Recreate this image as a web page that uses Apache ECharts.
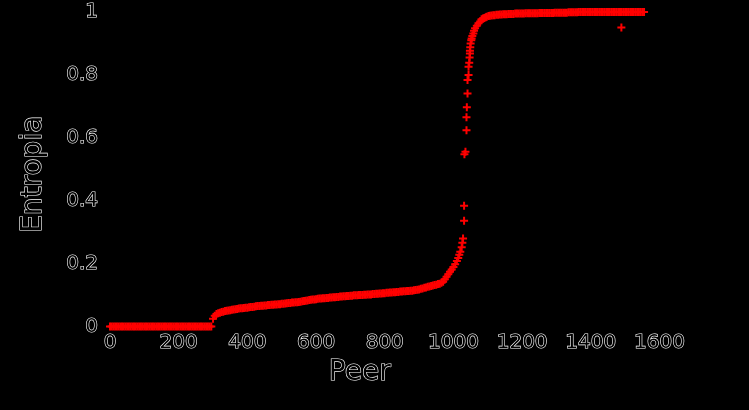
<!DOCTYPE html>
<html>
<head>
<meta charset="utf-8">
<script src="https://cdn.jsdelivr.net/npm/echarts@6/dist/echarts.min.js"></script>
<style>
html,body{margin:0;padding:0;background:#000;}
#chart{width:749px;height:410px;}
</style>
</head>
<body>
<div id="chart"></div>
<script>
// X tick labels / Y tick labels
const xTicks = [0, 200, 400, 600, 800, 1000, 1200, 1400, 1600];
const yTicks = [0, 0.2, 0.4, 0.6, 0.8, 1];

// [peer, entropy] values
const flatZero = [[0,0],[5,0],[10,0],[15,0],[20,0],[25,0],[30,0],[35,0],[40,0],[45,0],
  [50,0],[55,0],[60,0],[65,0],[70,0],[75,0],[80,0],[85,0],[90,0],[95,0],
  [100,0],[105,0],[110,0],[115,0],[120,0],[125,0],[130,0],[135,0],[140,0],[145,0],
  [150,0],[155,0],[160,0],[165,0],[170,0],[175,0],[180,0],[185,0],[190,0],[195,0],
  [200,0],[205,0],[210,0],[215,0],[220,0],[225,0],[230,0],[235,0],[240,0],[245,0],
  [250,0],[255,0],[260,0],[265,0],[270,0],[275,0],[280,0],[285,0],[290,0],[295,0]];

const lowBranch = [[300,0.025],[305,0.034],[310,0.04],[315,0.042],[320,0.044],[325,0.046],
  [330,0.047],[335,0.049],[340,0.05],[345,0.051],[350,0.052],[355,0.053],[360,0.054],[365,0.055],
  [370,0.056],[375,0.057],[380,0.058],[385,0.058],[390,0.059],[395,0.06],[400,0.06],[405,0.061],
  [410,0.062],[415,0.062],[420,0.063],[425,0.064],[430,0.065],[435,0.065],[440,0.066],[445,0.066],
  [450,0.067],[455,0.067],[460,0.068],[465,0.068],[470,0.069],[475,0.069],[480,0.07],[485,0.07],
  [490,0.071],[495,0.071],[500,0.072],[505,0.072],[510,0.073],[515,0.074],[520,0.075],[525,0.075],
  [530,0.076],[535,0.076],[540,0.077],[545,0.077],[550,0.078],[555,0.079],[560,0.08],[565,0.081],
  [570,0.082],[575,0.083],[580,0.084],[585,0.085],[590,0.086],[595,0.086],[600,0.087],[605,0.088],
  [610,0.089],[615,0.089],[620,0.09],[625,0.09],[630,0.091],[635,0.091],[640,0.092],[645,0.092],
  [650,0.093],[655,0.093],[660,0.094],[665,0.094],[670,0.095],[675,0.095],[680,0.096],[685,0.096],
  [690,0.097],[695,0.097],[700,0.098],[705,0.098],[710,0.099],[715,0.099],[720,0.099],[725,0.1],
  [730,0.1],[735,0.1],[740,0.101],[745,0.101],[750,0.102],[755,0.102],[760,0.102],[765,0.103],
  [770,0.103],[775,0.104],[780,0.104],[785,0.105],[790,0.105],[795,0.106],[800,0.106],[805,0.107],
  [810,0.107],[815,0.108],[820,0.108],[825,0.109],[830,0.109],[835,0.11],[840,0.11],[845,0.111],
  [850,0.111],[855,0.112],[860,0.112],[865,0.113],[870,0.113],[875,0.114],[880,0.114],[885,0.115],
  [890,0.116],[895,0.117],[900,0.118],[905,0.12],[910,0.121],[915,0.123],[920,0.124],[925,0.126],
  [930,0.127],[935,0.129],[940,0.13],[945,0.132],[950,0.133],[955,0.135],[960,0.136],[965,0.139]];

const riseBranch = [[970,0.142],[975,0.15],[980,0.158],[985,0.166],[990,0.174],[995,0.181],
  [1000,0.189],[1005,0.198],[1010,0.208],[1014,0.218],[1017,0.228],[1020,0.238],[1024,0.252],
  [1026,0.266],[1028,0.28],[1031,0.336],[1031,0.384],[1032,0.548],[1035,0.556],[1038,0.624],
  [1038,0.665],[1039,0.697],[1041,0.741],[1041,0.784],[1044,0.8],[1044,0.826],[1046,0.839],
  [1047,0.855],[1048,0.868],[1048,0.877],[1049,0.888],[1050,0.9],[1052,0.91],[1053,0.916],
  [1055,0.924],[1058,0.932],[1060,0.94],[1063,0.948],[1068,0.956],[1073,0.964],[1078,0.97],
  [1082,0.977],[1086,0.979],[1090,0.981],[1094,0.983],[1097,0.985],[1102,0.987],[1106,0.988],
  [1111,0.989],[1116,0.99]];

const plateau = [[1120,0.99],[1125,0.991],[1130,0.991],[1135,0.992],[1140,0.992],[1145,0.993],
  [1150,0.993],[1155,0.993],[1160,0.994],[1165,0.994],[1170,0.994],[1175,0.994],[1180,0.995],
  [1185,0.995],[1190,0.995],[1195,0.995],[1200,0.995],[1205,0.995],[1210,0.996],[1215,0.996],
  [1220,0.996],[1225,0.996],[1230,0.996],[1235,0.996],[1240,0.996],[1245,0.996],[1250,0.997],
  [1255,0.997],[1260,0.997],[1265,0.997],[1270,0.997],[1275,0.997],[1280,0.997],[1285,0.997],
  [1290,0.997],[1295,0.998],[1300,0.998],[1305,0.998],[1310,0.998],[1315,0.998],[1320,0.998],
  [1325,0.998],[1330,0.998],[1335,0.999],[1340,0.999],[1345,0.999],[1350,0.999],[1355,0.999],
  [1360,0.999],[1365,1],[1370,1],[1375,1],[1380,1],[1385,1],[1390,1],[1395,1],[1400,1],
  [1405,1],[1410,1],[1415,1],[1420,1],[1425,1],[1430,1],[1435,1],[1440,1],[1445,1],[1450,1],
  [1455,1],[1460,1],[1465,1],[1470,1],[1475,1],[1480,1],[1485,1],[1490,1],[1495,1],[1500,1],
  [1505,1],[1510,1],[1515,1],[1520,1],[1525,1],[1530,1],[1535,1],[1540,1],[1545,1],[1550,1],[1555,1]];

const outlier = [[1489,0.951]];

const plusPath = 'path://M3,0h2v3h3v2h-3v3h-2v-3h-3v-2h3z';
const textStyle = {
  color: '#000', textBorderColor: '#fff', textBorderWidth: 1.2,
  fontFamily: 'DejaVu Sans'
};

const chart = echarts.init(document.getElementById('chart'), null, {renderer: 'canvas'});
chart.setOption({
  backgroundColor: '#000',
  animation: false,
  grid: {left: 110, right: 89.5, top: 12, bottom: 83.5, containLabel: false},
  xAxis: {
    type: 'value', min: xTicks[0], max: xTicks[xTicks.length - 1], interval: 200,
    name: 'Peer', nameLocation: 'middle', nameGap: 32,
    nameTextStyle: Object.assign({}, textStyle, {fontSize: 28, padding: [0, 50, 0, 0]}),
    axisLine: {show: false}, axisTick: {show: false}, splitLine: {show: false},
    axisLabel: Object.assign({}, textStyle, {fontSize: 20, margin: 6,
      formatter: v => String(Math.round(v))})
  },
  yAxis: {
    type: 'value', min: yTicks[0], max: yTicks[yTicks.length - 1], interval: 0.2,
    name: 'Entropia', nameLocation: 'middle', nameGap: 62, nameRotate: 90,
    nameTextStyle: Object.assign({}, textStyle, {fontSize: 28, padding: [0, 10, 0, 0]}),
    axisLine: {show: false}, axisTick: {show: false}, splitLine: {show: false},
    axisLabel: Object.assign({}, textStyle, {fontSize: 20, margin: 12,
      formatter: v => String(+(+v).toFixed(2))})
  },
  series: [flatZero, lowBranch, riseBranch, plateau, outlier].map(d => ({
    type: 'scatter', data: d, symbol: plusPath, symbolSize: 8, clip: false,
    itemStyle: {color: '#ff0000', opacity: 1}, silent: true
  }))
});
</script>
</body>
</html>
